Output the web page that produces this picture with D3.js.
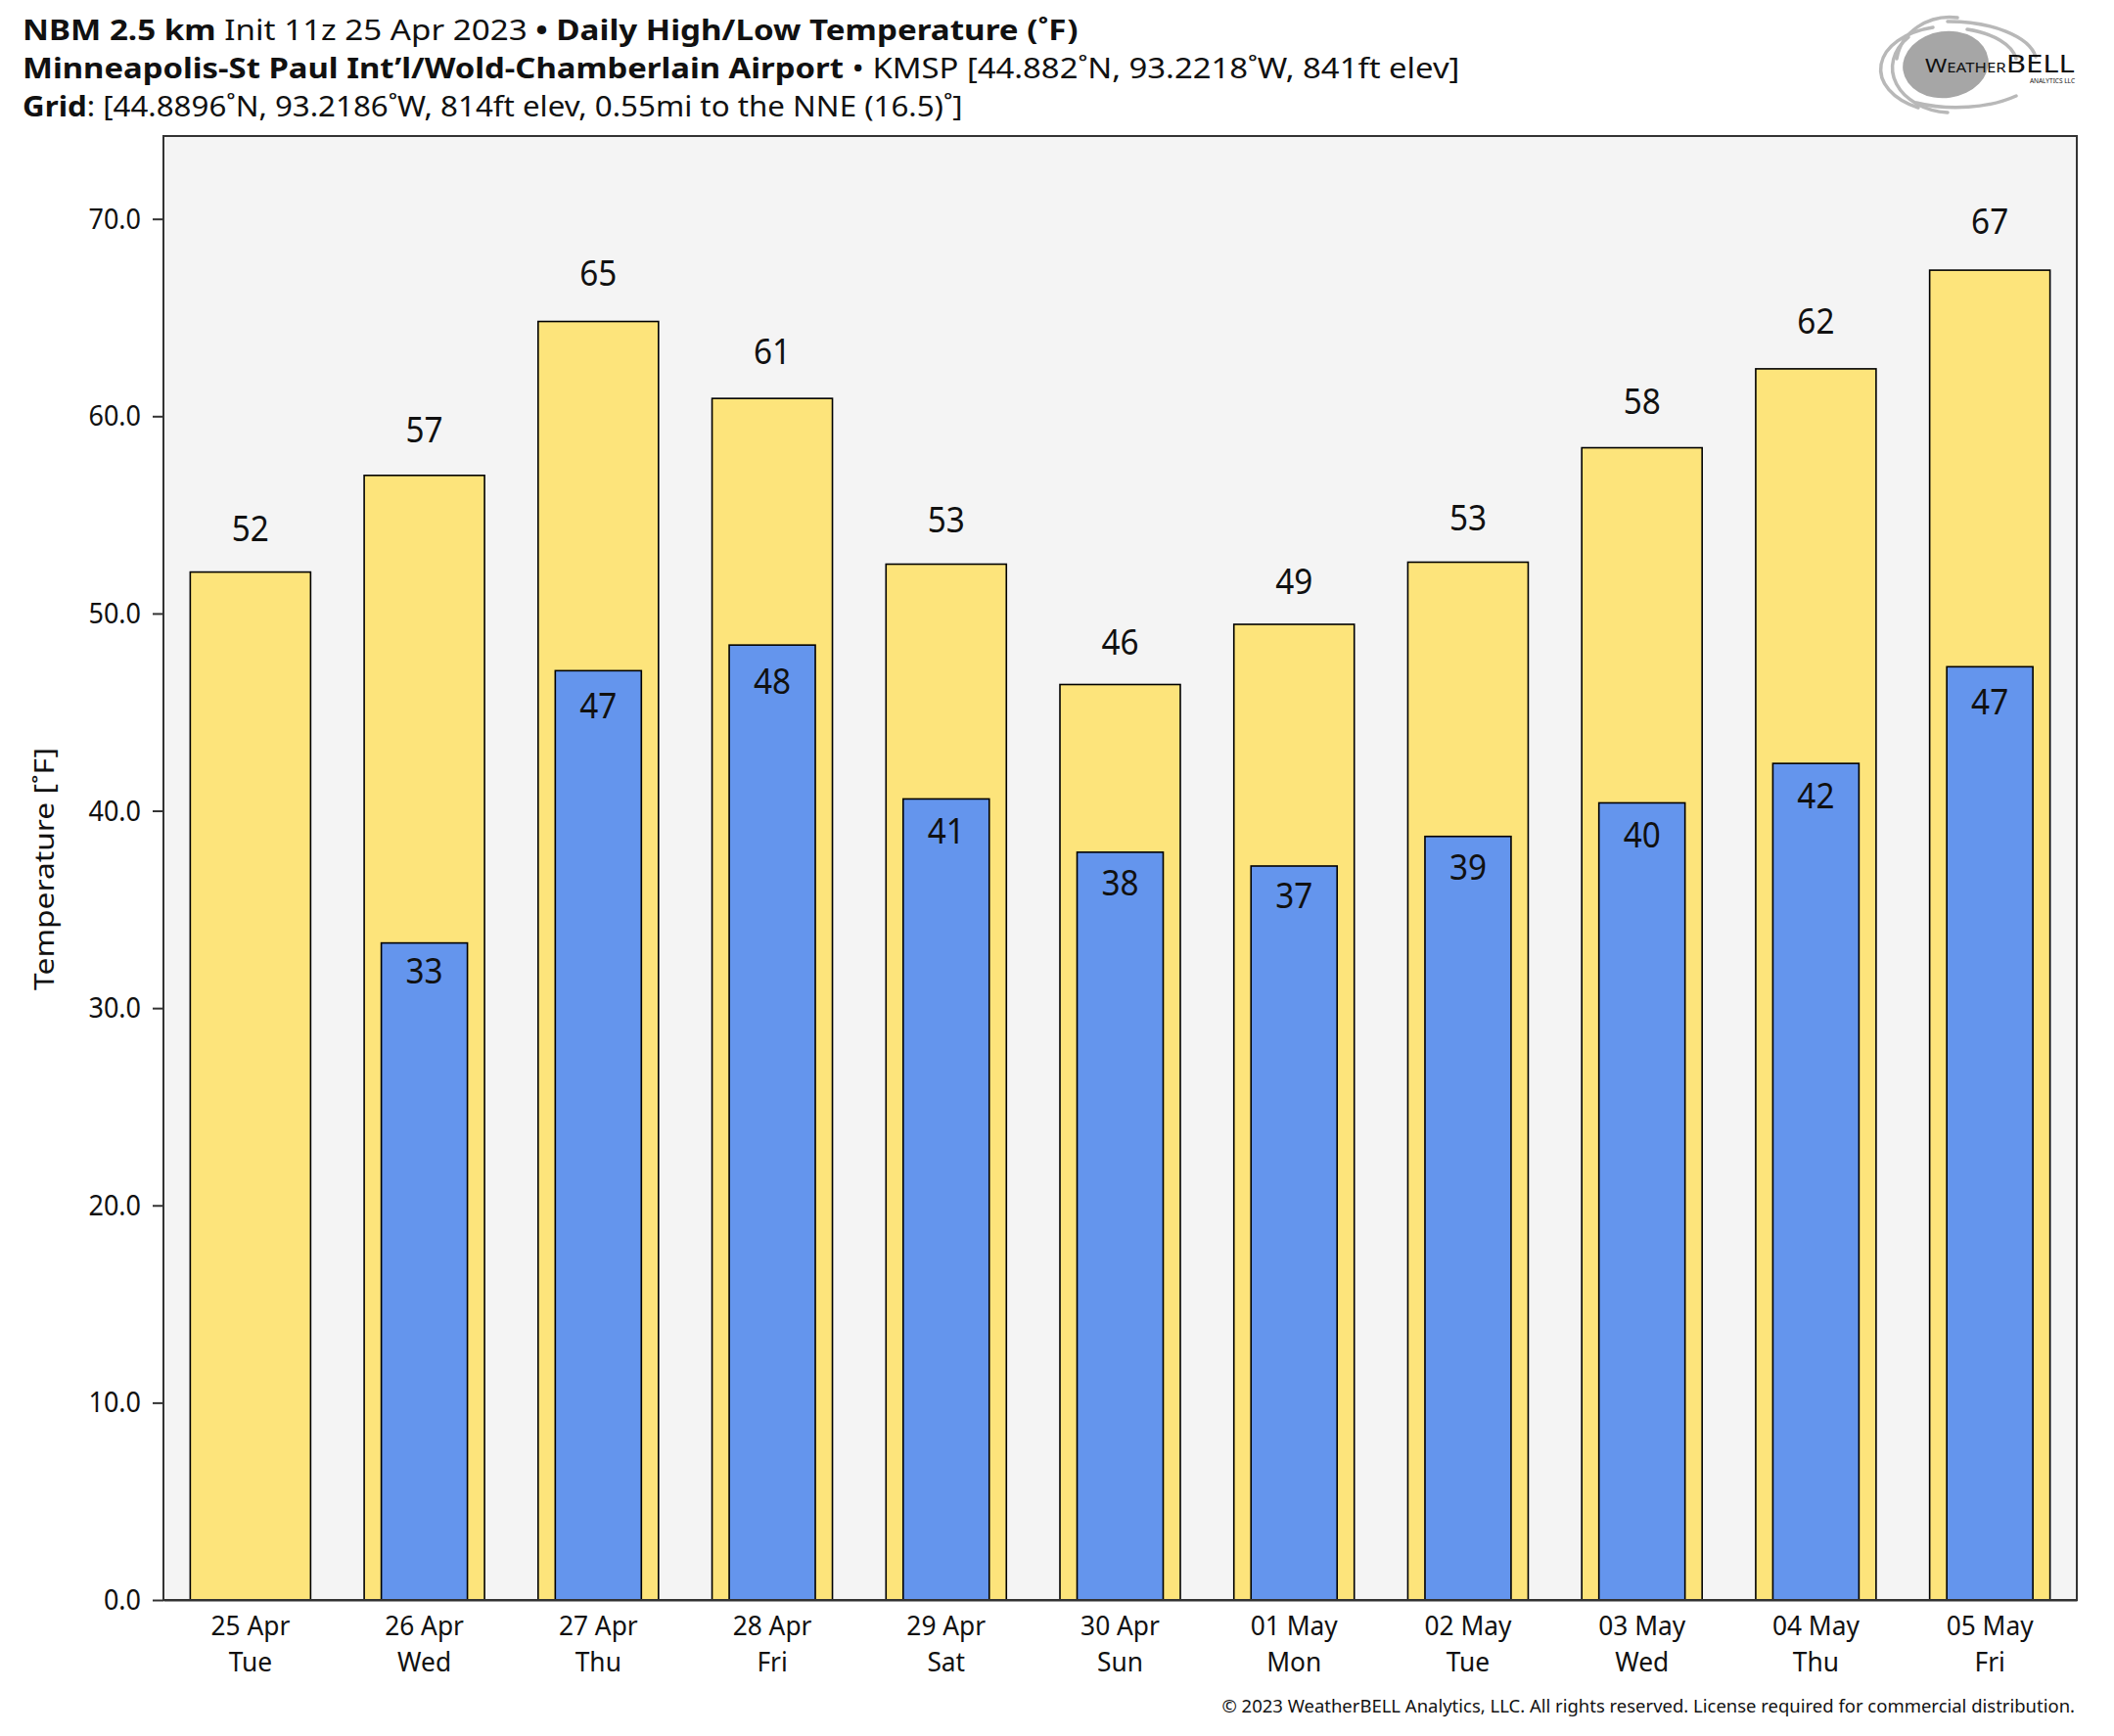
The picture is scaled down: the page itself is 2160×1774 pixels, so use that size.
<!DOCTYPE html>
<html>
<head>
<meta charset="utf-8">
<script src="https://cdn.jsdelivr.net/npm/d3@7"></script>
<style>
  html, body { margin: 0; padding: 0; background: #ffffff; }
  svg { display: block; }
  text { font-family: "Noto Sans", "Open Sans", sans-serif; fill: #111; }
</style>
</head>
<body>
<script>
// ---- data ----
const dates = ["25 Apr", "26 Apr", "27 Apr", "28 Apr", "29 Apr", "30 Apr", "01 May", "02 May", "03 May", "04 May", "05 May"];
const weekdays = ["Tue", "Wed", "Thu", "Fri", "Sat", "Sun", "Mon", "Tue", "Wed", "Thu", "Fri"];
const highs = [52.1, 57.0, 64.8, 60.9, 52.5, 46.4, 49.45, 52.6, 58.4, 62.4, 67.4];
const lows = [null, 33.3, 47.1, 48.4, 40.6, 37.9, 37.2, 38.7, 40.4, 42.4, 47.3];
const yTicks = [0, 10, 20, 30, 40, 50, 60, 70];
const titleLines = [
  [["NBM 2.5 km", true], [" Init 11z 25 Apr 2023 ", false], ["\u2022 Daily High/Low Temperature (\u02daF)", true]],
  [["Minneapolis-St Paul Int\u2019l/Wold-Chamberlain Airport", true], [" \u2022 KMSP [44.882\u02daN, 93.2218\u02daW, 841ft elev]", false]],
  [["Grid", true], [": [44.8896\u02daN, 93.2186\u02daW, 814ft elev, 0.55mi to the NNE (16.5)\u02da]", false]]
];
const yLabel = "Temperature [\u02daF]";
const copyright = "\u00a9 2023 WeatherBELL Analytics, LLC. All rights reserved. License required for commercial distribution.";

// ---- layout ----
const W = 2160, H = 1774;
const plot = { left: 167, right: 2122, top: 139, bottom: 1635 };
const yellow = "#fde47b", blue = "#6495ed", bg = "#f4f4f4", frame = "#333333";

const svg = d3.select("body").append("svg").attr("width", W).attr("height", H);

const x = d3.scaleBand().domain(dates).range([plot.left, plot.right]).paddingInner(0).paddingOuter(0);
const y = d3.scaleLinear().domain([0, 74.2]).range([plot.bottom, plot.top]);

function placeText(g, xPos, yPos, sx) {
  g.attr("transform", `translate(${xPos},${yPos}) scale(${sx},1)`);
}
function fitTo(textSel, targetW) {
  const w = textSel.node().getBBox().width;
  return targetW / w;
}

// plot background
svg.append("rect")
  .attr("x", plot.left).attr("y", plot.top)
  .attr("width", plot.right - plot.left).attr("height", plot.bottom - plot.top)
  .attr("fill", bg);

const bw = x.bandwidth();
const hiW = bw * 0.692, loW = bw * 0.495;

// high bars
svg.append("g").selectAll("rect").data(dates).join("rect")
  .attr("x", (d) => x(d) + (bw - hiW) / 2)
  .attr("width", hiW)
  .attr("y", (d, i) => y(highs[i]))
  .attr("height", (d, i) => y(0) - y(highs[i]))
  .attr("fill", yellow).attr("stroke", "#000").attr("stroke-width", 1.6);

// low bars
svg.append("g").selectAll("rect").data(dates.filter((d, i) => lows[i] != null)).join("rect")
  .attr("x", (d) => x(d) + (bw - loW) / 2)
  .attr("width", loW)
  .attr("y", (d) => y(lows[dates.indexOf(d)]))
  .attr("height", (d) => y(0) - y(lows[dates.indexOf(d)]))
  .attr("fill", blue).attr("stroke", "#000").attr("stroke-width", 1.6);

// value labels
const SQ = 0.9;
dates.forEach((d, i) => {
  const cx = x(d) + bw / 2;
  const v = highs[i];
  const t = svg.append("text").attr("text-anchor", "middle").attr("font-size", 37).attr("fill", "#111")
    .text(Math.round(v));
  placeText(t, cx, y(v) - (30 + (v - 46) * 0.33), SQ);
  const lv = lows[i];
  if (lv != null) {
    const lt = svg.append("text").attr("text-anchor", "middle").attr("font-size", 37).attr("fill", "#111")
      .text(Math.round(lv));
    placeText(lt, cx, y(lv) + (20 + 0.4 * (lv - 33)) * 1.3776 + 13.5, SQ);
  }
});

// frame
svg.append("rect")
  .attr("x", plot.left).attr("y", plot.top)
  .attr("width", plot.right - plot.left).attr("height", plot.bottom - plot.top)
  .attr("fill", "none").attr("stroke", frame).attr("stroke-width", 2);

// y axis
const yAxis = svg.append("g").attr("transform", `translate(${plot.left},0)`)
  .call(d3.axisLeft(y).tickValues(yTicks).tickFormat(d3.format(".1f")).tickSize(11).tickPadding(10));
yAxis.select(".domain").remove();
yAxis.selectAll(".tick line").attr("stroke", frame).attr("stroke-width", 2);
yAxis.selectAll(".tick text").attr("font-size", 30).attr("fill", "#222")
  .attr("font-family", "'Noto Sans', sans-serif")
  .attr("transform", "scale(0.9,1)")
  .attr("x", -23 / 0.9);

// x axis line
const xAxis = svg.append("g").attr("transform", `translate(0,${plot.bottom})`)
  .call(d3.axisBottom(x).tickSize(0).tickFormat(() => ""));
xAxis.selectAll(".tick").remove();
xAxis.select(".domain").attr("stroke", frame).attr("stroke-width", 2);

// x labels: two lines in one text element
dates.forEach((d, i) => {
  const cx = x(d) + bw / 2;
  const t = svg.append("text").attr("text-anchor", "middle").attr("font-size", 27).attr("fill", "#222");
  t.append("tspan").attr("x", 0).attr("y", 0).text(d);
  t.append("tspan").attr("x", 0).attr("y", 37.5).text(weekdays[i]);
  placeText(t, cx, 1671, 0.975);
});

// y axis title
const yl = svg.append("text").attr("text-anchor", "middle").attr("font-size", 28).attr("fill", "#222").text(yLabel);
const ylScale = fitTo(yl, 248);
yl.attr("transform", `translate(55,888) rotate(-90) scale(${ylScale},1)`);

// title lines
const titleBaselines = [41, 80, 118.5];
const titleRight = [1102, 1492, 984];
titleLines.forEach((segs, li) => {
  const t = svg.append("text").attr("font-size", 29).attr("fill", "#111");
  segs.forEach(([s, b]) => t.append("tspan").attr("font-weight", b ? 700 : 400).text(s));
  const sx = fitTo(t, titleRight[li] - 23);
  t.attr("transform", `translate(23,${titleBaselines[li]}) scale(${sx},1)`);
});

// copyright
const cp = svg.append("text").attr("text-anchor", "end").attr("font-size", 18).attr("fill", "#333").text(copyright);
const cpS = fitTo(cp, 2119 - 1247);
cp.attr("transform", `translate(2120,1750) scale(${cpS},1)`);

// logo (WeatherBELL)
const logo = svg.append("g");
logo.append("ellipse").attr("cx", 1988).attr("cy", 66).attr("rx", 44).attr("ry", 34)
  .attr("fill", "#a6a6a6").attr("transform", "rotate(-8,1988,66)");
const arcs = [
  "M 1975 28 A 70 44 0 0 0 1960 110",
  "M 1950 38 A 62 46 0 0 0 1990 115",
  "M 1990 22 A 90 42 0 0 1 2080 58",
  "M 2010 30 A 70 36 0 0 1 2060 60",
  "M 1958 105 A 90 44 0 0 0 2060 98",
  "M 1938 60 A 55 50 0 0 1 2000 18"
];
logo.selectAll("path").data(arcs).join("path")
  .attr("d", (d) => d).attr("fill", "none").attr("stroke", "#b8b8b8").attr("stroke-width", 3.5)
  .attr("stroke-linecap", "round");
const lt = logo.append("text").attr("font-family", "'Liberation Serif', 'DejaVu Serif', serif")
  .attr("fill", "#3c3c3c").attr("x", 1967).attr("y", 74);
lt.append("tspan").attr("font-size", 20).text("W");
lt.append("tspan").attr("font-size", 14).text("EATHER");
lt.append("tspan").attr("font-size", 26).text("BELL");
const ltS = fitTo(lt, 2120 - 1967);
lt.attr("transform", `translate(${1967 * (1 - ltS)},0) scale(${ltS},1)`);
logo.append("text").attr("font-family", "'Liberation Serif', serif").attr("font-size", 6.5)
  .attr("fill", "#555").attr("x", 2120).attr("y", 85).attr("text-anchor", "end").text("ANALYTICS LLC");
</script>
</body>
</html>
